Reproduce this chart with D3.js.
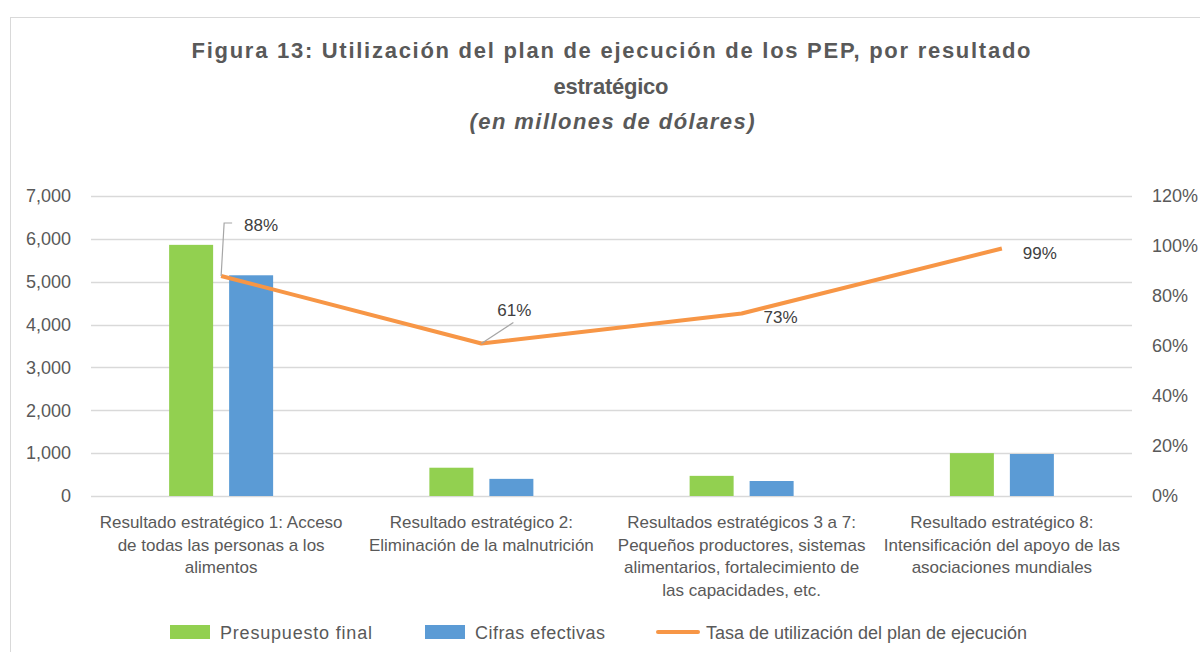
<!DOCTYPE html>
<html>
<head>
<meta charset="utf-8">
<script src="https://cdn.jsdelivr.net/npm/d3@7"></script>
<style>
  body { margin: 0; background: #fff; }
  text { font-family: "Liberation Sans", Arial, sans-serif; fill: #595959; }
</style>
</head>
<body>
<script>
const w = 1200;
const h = 652;

// data
const categories = [
  ["Resultado estratégico 1: Acceso", "de todas las personas a los", "alimentos"],
  ["Resultado estratégico 2:", "Eliminación de la malnutrición"],
  ["Resultados estratégicos 3 a 7:", "Pequeños productores, sistemas", "alimentarios, fortalecimiento de", "las capacidades, etc."],
  ["Resultado estratégico 8:", "Intensificación del apoyo de las", "asociaciones mundiales"]
];
const presupuesto = [5860, 660, 470, 1000];
const cifras = [5150, 400, 350, 980];
const tasa = [0.88, 0.61, 0.73, 0.99];
const leftTicks = [0, 1000, 2000, 3000, 4000, 5000, 6000, 7000];
const rightTicks = [0, 0.2, 0.4, 0.6, 0.8, 1.0, 1.2];
const seriesNames = ["Presupuesto final", "Cifras efectivas", "Tasa de utilización del plan de ejecución"];
const colors = ["#92D050", "#5B9BD5", "#F79646"];

let svg = d3.select("body")
  .append("svg")
    .attr("width", w)
    .attr("height", h);

// frame
svg.append("rect")
  .attr("x", 10.5).attr("y", 17.5)
  .attr("width", 1200).attr("height", 700)
  .attr("fill", "none")
  .attr("stroke", "#d9d9d9");

// title
let title = svg.append("g").attr("text-anchor", "middle");
title.append("text").attr("x", 611).attr("y", 58)
  .style("font-size", "22px").style("font-weight", "bold")
  .attr("textLength", 839).attr("lengthAdjust", "spacing")
  .text("Figura 13: Utilización del plan de ejecución de los PEP, por resultado");
title.append("text").attr("x", 611).attr("y", 94)
  .style("font-size", "22px").style("font-weight", "bold")
  .attr("textLength", 115).attr("lengthAdjust", "spacing")
  .text("estratégico");
title.append("text").attr("x", 612).attr("y", 129)
  .style("font-size", "22px").style("font-weight", "bold").style("font-style", "italic")
  .attr("textLength", 285).attr("lengthAdjust", "spacing")
  .text("(en millones de dólares)");

const plotL = 91, plotR = 1132, plotT = 196, plotB = 496;

let x = d3.scaleBand()
  .domain(d3.range(categories.length))
  .range([plotL, plotR]);

let y = d3.scaleLinear().domain([0, 7000]).range([plotB, plotT]);
let y2 = d3.scaleLinear().domain([0, 1.2]).range([plotB, plotT]);

// grid
svg.append("g")
  .selectAll("line")
  .data(leftTicks)
  .enter()
  .append("line")
    .attr("x1", plotL).attr("x2", plotR)
    .attr("y1", d => Math.round(y(d)) + 0.5)
    .attr("y2", d => Math.round(y(d)) + 0.5)
    .attr("stroke", "#d9d9d9")
    .attr("stroke-width", 1.3);

// left axis
let yAxis = svg.append("g")
  .attr("transform", "translate(" + (plotL - 20) + ",0)")
  .call(d3.axisLeft(y).tickValues(leftTicks).tickFormat(d3.format(",")).tickSize(0).tickPadding(0));
yAxis.select(".domain").remove();
yAxis.selectAll("text").style("font-size", "18px").attr("fill", "#595959").style("font-family", "Liberation Sans, Arial, sans-serif");

// right axis
let y2Axis = svg.append("g")
  .attr("transform", "translate(" + (plotR + 20) + ",0)")
  .call(d3.axisRight(y2).tickValues(rightTicks).tickFormat(d3.format(".0%")).tickSize(0).tickPadding(0));
y2Axis.select(".domain").remove();
y2Axis.selectAll("text").style("font-size", "18px").attr("fill", "#595959").style("font-family", "Liberation Sans, Arial, sans-serif");

// bars
const barW = 44, gap = 16;
svg.append("g").selectAll("rect")
  .data(presupuesto)
  .enter()
  .append("rect")
    .attr("x", (d, i) => x(i) + x.bandwidth() / 2 - gap / 2 - barW)
    .attr("y", d => y(d))
    .attr("width", barW)
    .attr("height", d => plotB - y(d))
    .attr("fill", colors[0]);

svg.append("g").selectAll("rect")
  .data(cifras)
  .enter()
  .append("rect")
    .attr("x", (d, i) => x(i) + x.bandwidth() / 2 + gap / 2)
    .attr("y", d => y(d))
    .attr("width", barW)
    .attr("height", d => plotB - y(d))
    .attr("fill", colors[1]);

// line
let line = d3.line()
  .x((d, i) => x(i) + x.bandwidth() / 2)
  .y(d => y2(d));

svg.append("path")
  .datum(tasa)
  .attr("d", line)
  .attr("fill", "none")
  .attr("stroke", colors[2])
  .attr("stroke-width", 4)
  .attr("stroke-linejoin", "round");

// data labels (offsets from each point)
const labelDx = [40, 33, 39, 38];
const labelDy = [-45, -28, 9, 10];
let px = i => x(i) + x.bandwidth() / 2;

// leader lines
svg.append("path")
  .attr("d", "M" + px(0) + "," + y2(tasa[0]) + "L" + (px(0) + 3) + "," + (y2(tasa[0]) - 53) + "H" + (px(0) + 11))
  .attr("fill", "none").attr("stroke", "#a6a6a6").attr("stroke-width", 1.2);
svg.append("path")
  .attr("d", "M" + px(1) + "," + y2(tasa[1]) + "L" + (px(1) + 32) + "," + (y2(tasa[1]) - 21))
  .attr("fill", "none").attr("stroke", "#a6a6a6").attr("stroke-width", 1.2);

svg.append("g").selectAll("text")
  .data(tasa)
  .enter()
  .append("text")
    .attr("x", (d, i) => px(i) + labelDx[i])
    .attr("y", (d, i) => y2(d) + labelDy[i])
    .attr("text-anchor", "middle")
    .style("font-size", "17px")
    .style("fill", "#404040")
    .text(d => d3.format(".0%")(d));

// category labels
let cat = svg.append("g").selectAll("text")
  .data(categories)
  .enter()
  .append("text")
    .attr("text-anchor", "middle")
    .attr("x", (d, i) => px(i))
    .attr("y", 528)
    .style("font-size", "17px");
cat.selectAll("tspan")
  .data(d => d)
  .enter()
  .append("tspan")
    .attr("x", function () { return d3.select(this.parentNode).attr("x"); })
    .attr("dy", (d, i) => i === 0 ? 0 : 22.7)
    .text(d => d);

// legend
const legX = [170, 425, 658];
const legW = [152, 130, 321];
let leg = svg.append("g");
leg.append("rect").attr("x", legX[0]).attr("y", 625).attr("width", 40).attr("height", 14).attr("fill", colors[0]);
leg.append("rect").attr("x", legX[1]).attr("y", 625).attr("width", 40).attr("height", 14).attr("fill", colors[1]);
leg.append("line").attr("x1", legX[2]).attr("x2", legX[2] + 40).attr("y1", 632).attr("y2", 632)
  .attr("stroke", colors[2]).attr("stroke-width", 4).attr("stroke-linecap", "round");
leg.selectAll("text")
  .data(seriesNames)
  .enter()
  .append("text")
    .attr("x", (d, i) => legX[i] + (i === 2 ? 48 : 50))
    .attr("y", 639)
    .style("font-size", "18px")
    .attr("textLength", (d, i) => legW[i])
    .attr("lengthAdjust", "spacing")
    .text(d => d);
</script>
</body>
</html>
